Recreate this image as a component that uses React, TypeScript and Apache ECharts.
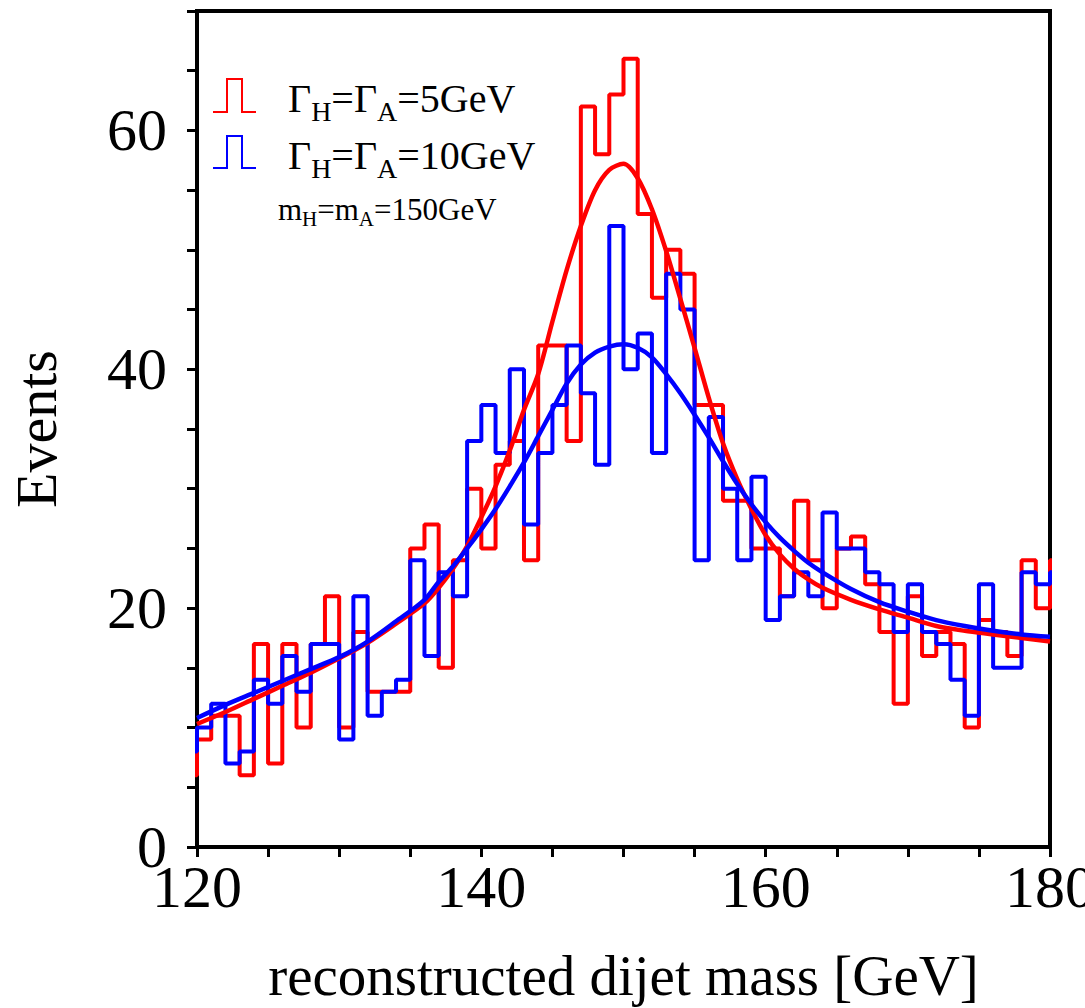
import React, { useEffect, useRef } from "react";
import * as echarts from "echarts";

// Histogram: counts per 1 GeV bin, first bin starts at 119 GeV (only its edge is visible), last at 180 GeV
const BIN_LOW = 119;
const redCounts = [
  6,
  9, 11, 11, 6, 17, 7, 17, 10, 17, 21,
  10, 18, 13, 13, 13, 25, 27, 15, 24, 30,
  25, 32, 34, 24, 42, 42, 34, 62, 58, 63,
  66, 53, 46, 50, 48, 37, 37, 29, 29, 25,
  25, 21, 29, 24, 20, 25, 26, 22, 18, 12,
  21, 16, 18, 17, 10, 19, 18, 16, 24, 20,
  24,
];
const blueCounts = [
  8,
  10, 12, 7, 8, 14, 12, 16, 13, 17, 17,
  9, 21, 11, 13, 14, 24, 16, 23, 21, 34,
  37, 33, 40, 27, 33, 37, 42, 38, 32, 52,
  40, 43, 33, 48, 45, 24, 36, 30, 24, 31,
  19, 21, 23, 21, 28, 25, 25, 23, 22, 18,
  22, 18, 17, 14, 11, 22, 15, 15, 23, 22,
  23,
];

// Fitted curves
const curveMass = [120, 122, 124, 126, 128, 130, 132, 134, 136, 137, 138, 139, 140, 141, 142, 143, 144, 145, 146, 147, 148, 149, 150, 151, 152, 153, 154, 155, 156, 157, 158, 159, 160, 161, 162, 163, 164, 166, 168, 170, 172, 174, 176, 178, 180];
const redFit = [10.3, 11.3, 12.4, 13.5, 14.6, 15.8, 17.1, 18.7, 20.4, 21.7, 23.3, 25.2, 27.6, 30.2, 33.2, 36.6, 39.6, 44.0, 48.3, 52.0, 55.0, 56.7, 57.2, 56.0, 53.4, 49.9, 45.9, 41.8, 37.6, 33.8, 30.8, 28.3, 26.1, 24.5, 23.3, 22.4, 21.7, 20.7, 19.9, 19.2, 18.5, 18.1, 17.8, 17.5, 17.2];
const blueFit = [10.8, 11.9, 12.9, 13.9, 14.9, 15.9, 17.2, 18.9, 20.7, 22.2, 23.5, 25.0, 26.6, 28.3, 30.2, 32.2, 34.4, 36.6, 38.8, 40.4, 41.4, 41.9, 42.1, 41.8, 41.0, 39.6, 38.0, 36.2, 34.3, 32.3, 30.4, 28.7, 27.2, 25.9, 24.8, 23.8, 23.0, 21.6, 20.5, 19.7, 19.0, 18.5, 18.1, 17.8, 17.6];

const yTickLabels = [0, 20, 40, 60];
const xTickLabels = [120, 140, 160, 180];

const SERIF = "'Liberation Serif', 'Times New Roman', serif";
const RED = "#ff0000";
const BLUE = "#0000ff";

function stepData(counts: number[]) {
  const pts = counts.map((c, i) => [BIN_LOW + i, c]);
  pts.push([BIN_LOW + counts.length, counts[counts.length - 1]]);
  return pts;
}

export default function App() {
  const ref = useRef<HTMLDivElement>(null);
  useEffect(() => {
    const chart = echarts.init(ref.current!, null, { renderer: "svg" });
    const subRich = (main: number, sub: number, pad: number) => ({
      a: { fontSize: main, fontFamily: SERIF, color: "#000", verticalAlign: "top" },
      s: { fontSize: sub, fontFamily: SERIF, color: "#000", verticalAlign: "bottom", padding: [pad, 0, 0, 0] },
    });
    chart.setOption({
      animation: false,
      backgroundColor: "#fff",
      grid: {
        left: 197,
        right: 35,
        top: 11,
        bottom: 161,
        show: true,
        borderColor: "#000",
        borderWidth: 4,
        containLabel: false,
        outerBoundsMode: "none",
      },
      xAxis: {
        type: "value",
        min: 120,
        max: 180,
        interval: 5,
        name: "reconstructed dijet mass [GeV]",
        nameLocation: "middle",
        nameGap: 100,
        nameTextStyle: { fontFamily: SERIF, fontSize: 57, color: "#000" },
        axisLine: { show: true, onZero: false, lineStyle: { color: "#000", width: 4 } },
        axisTick: { show: true, inside: false, length: 10, lineStyle: { color: "#000", width: 3 } },
        axisLabel: {
          fontFamily: SERIF,
          fontSize: 60,
          lineHeight: 46,
          color: "#000",
          margin: 17,
          formatter: (v: number) => (xTickLabels.includes(v) ? String(v) : ""),
        },
        splitLine: { show: false },
      },
      yAxis: {
        type: "value",
        min: 0,
        max: 70,
        interval: 5,
        name: "Events",
        nameLocation: "middle",
        nameGap: 132,
        nameRotate: 90,
        nameTextStyle: { fontFamily: SERIF, fontSize: 58, color: "#000" },
        axisLine: { show: true, onZero: false, lineStyle: { color: "#000", width: 4 } },
        axisTick: { show: true, inside: false, length: 10, lineStyle: { color: "#000", width: 3 } },
        axisLabel: {
          fontFamily: SERIF,
          fontSize: 60,
          lineHeight: 36,
          color: "#000",
          margin: 30,
          formatter: (v: number) => (yTickLabels.includes(v) ? String(v) : ""),
        },
        splitLine: { show: false },
      },
      series: [
        {
          name: "Γ=5GeV histogram",
          type: "line",
          step: "end",
          data: stepData(redCounts),
          showSymbol: false,
          lineStyle: { color: RED, width: 4 },
          itemStyle: { color: RED },
          clip: true,
        },
        {
          name: "Γ=10GeV histogram",
          type: "line",
          step: "end",
          data: stepData(blueCounts),
          showSymbol: false,
          lineStyle: { color: BLUE, width: 4 },
          itemStyle: { color: BLUE },
          clip: true,
        },
        {
          name: "Γ=5GeV fit",
          type: "line",
          smooth: 0.3,
          data: curveMass.map((m, i) => [m, redFit[i]]),
          showSymbol: false,
          lineStyle: { color: RED, width: 4.5 },
          itemStyle: { color: RED },
          clip: true,
        },
        {
          name: "Γ=10GeV fit",
          type: "line",
          smooth: 0.3,
          data: curveMass.map((m, i) => [m, blueFit[i]]),
          showSymbol: false,
          lineStyle: { color: BLUE, width: 4.5 },
          itemStyle: { color: BLUE },
          clip: true,
        },
      ],
      graphic: [
        {
          type: "polyline",
          shape: { points: [[213, 112], [227, 112], [227, 79], [242, 79], [242, 112], [256, 112]] },
          style: { stroke: RED, lineWidth: 2, fill: null },
        },
        {
          type: "polyline",
          shape: { points: [[213, 168], [227, 168], [227, 136], [242, 136], [242, 168], [256, 168]] },
          style: { stroke: BLUE, lineWidth: 2, fill: null },
        },
        {
          type: "text",
          x: 288,
          y: 78,
          style: {
            text: "{a|Γ}{s|H}{a|=Γ}{s|A}{a|=5GeV}",
            rich: subRich(40, 28, 19),
          },
        },
        {
          type: "text",
          x: 288,
          y: 135,
          style: {
            text: "{a|Γ}{s|H}{a|=Γ}{s|A}{a|=10GeV}",
            rich: subRich(40, 28, 19),
          },
        },
        {
          type: "text",
          x: 278,
          y: 194,
          style: {
            text: "{a|m}{s|H}{a|=m}{s|A}{a|=150GeV}",
            rich: subRich(31, 21, 14),
          },
        },
      ],
    });
    return () => chart.dispose();
  }, []);
  return (
    <div
      ref={ref}
      style={{ position: "fixed", left: 0, top: 0, width: 1085, height: 1008, background: "#fff" }}
    />
  );
}
